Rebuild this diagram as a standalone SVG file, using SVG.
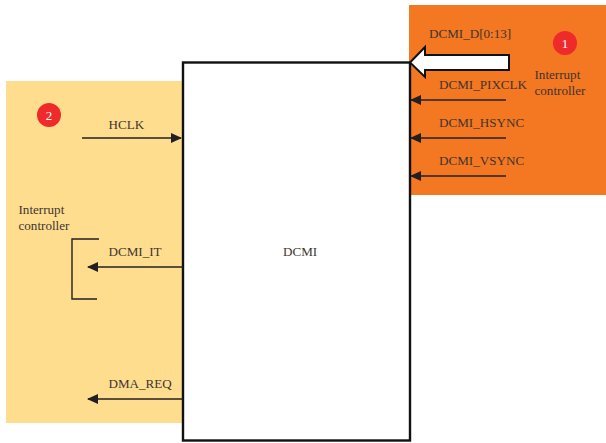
<svg xmlns="http://www.w3.org/2000/svg" width="606" height="443" viewBox="0 0 606 443">
<style>
text{font-family:"Liberation Serif",serif;font-size:13.1px;fill:#3d3530}
.ln{fill:none;stroke:#231f20;stroke-width:1.4}
.b{fill:#ee2a2b}
.n{fill:#fff;font-size:13px;text-anchor:middle}
</style>
<defs>
<marker id="ah" markerUnits="userSpaceOnUse" markerWidth="11" markerHeight="10" refX="10" refY="5" orient="auto"><path d="M0 0L11 5L0 10Z" fill="#231f20"/></marker>
</defs>
<rect id="bg-1" x="409" y="5" width="197" height="190" fill="#f47721"/>
<rect id="bg-2" x="6" y="81" width="177" height="342" fill="#fedd8f"/>
<g id="dcmi"><rect x="183" y="62.500" width="227" height="378" fill="#fff" stroke="#111" stroke-width="2.400"/><text x="283" y="256">DCMI</text></g>
<g id="connectors">
<path class="ln" d="M506 100H411" marker-end="url(#ah)"/>
<path class="ln" d="M506 138H411" marker-end="url(#ah)"/>
<path class="ln" d="M506 176H411" marker-end="url(#ah)"/>
<path class="ln" d="M82 138H181" marker-end="url(#ah)"/>
<path class="ln" d="M183 267H88" marker-end="url(#ah)"/>
<path class="ln" d="M183 399H88" marker-end="url(#ah)"/>
<path class="ln" d="M99 239H72V299H97"/>
<path d="M509 55H425V47L410 62.500L425 77V70H509Z" fill="#fff" stroke="#111" stroke-width="2"/>
</g>
<g id="label-data"><text x="429" y="38">DCMI_D[0:13]</text></g>
<g id="label-pixclk"><text x="439" y="89">DCMI_PIXCLK</text></g>
<g id="label-hsync"><text x="439" y="127">DCMI_HSYNC</text></g>
<g id="label-vsync"><text x="439" y="165">DCMI_VSYNC</text></g>
<g id="label-hclk"><text x="108.500" y="129">HCLK</text></g>
<g id="label-it"><text x="108.500" y="256">DCMI_IT</text></g>
<g id="label-dma"><text x="108.500" y="388">DMA_REQ</text></g>
<g id="controller-1"><text x="534.500" y="79">Interrupt</text><text x="534.500" y="95">controller</text></g>
<g id="controller-2"><text x="18.500" y="214">Interrupt</text><text x="18.500" y="230">controller</text></g>
<g id="badge-1"><circle class="b" cx="565" cy="43" r="12"/><text class="n" x="565" y="48">1</text></g>
<g id="badge-2"><circle class="b" cx="49" cy="115" r="12"/><text class="n" x="49" y="120">2</text></g>
</svg>
